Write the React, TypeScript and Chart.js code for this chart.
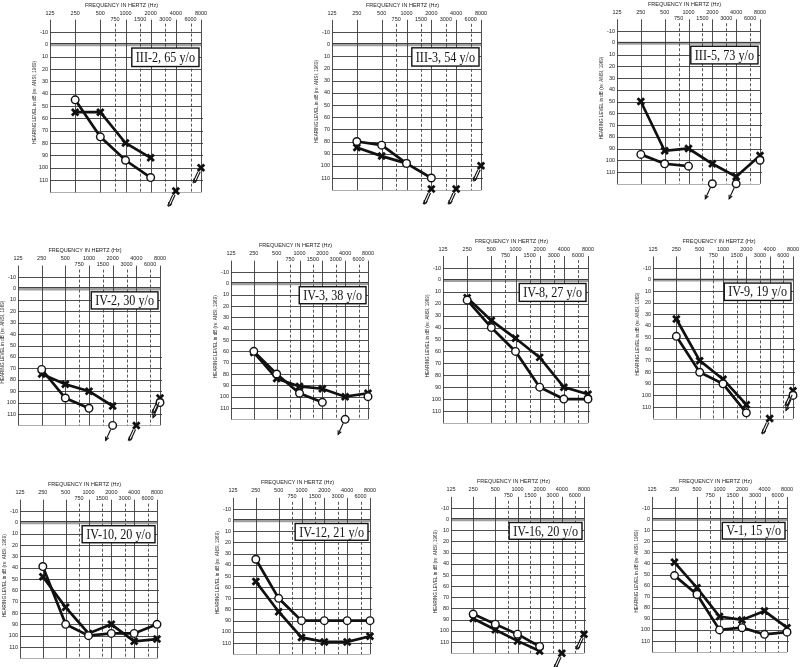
import React, { useEffect, useRef } from "react";
import { Chart, registerables } from "chart.js";

Chart.register(...registerables);

type Num = number | null;

// ---------- axes / ticks ----------
const FREQS = [250, 500, 1000, 2000, 4000, 8000];
const OCTAVE_TICKS = [125, 250, 500, 1000, 2000, 4000, 8000];
const MID_TICKS = [750, 1500, 3000, 6000];
const DB_TICKS = [-10, 0, 10, 20, 30, 40, 50, 60, 70, 80, 90, 100, 110];
const X_TITLE = "FREQUENCY IN HERTZ (Hz)";
const Y_TITLE = "HEARING LEVEL in dB (re: ANSI, 1969)";

// ---------- data (dB HL at FREQS) ----------
// O = circle series, X = cross series, NR = no response (arrow)
const iii2Circle: Num[] = [45, 75, 94, 108, null, null];
const iii2Cross: Num[] = [55, 55, 80, 92, null, null];
const iii2CircleNR: Num[] = [null, null, null, null, null, null];
const iii2CrossNR: Num[] = [null, null, null, null, 119, 100];

const iii3Circle: Num[] = [80, 83, 98, 110, null, null];
const iii3Cross: Num[] = [85, 92, 98, null, null, null];
const iii3CircleNR: Num[] = [null, null, null, null, null, null];
const iii3CrossNR: Num[] = [null, null, null, 119, 119, 100];

const iii5Circle: Num[] = [95, 103, 105, null, null, 100];
const iii5Cross: Num[] = [50, 92, 90, 103, 114, 96];
const iii5CircleNR: Num[] = [null, null, null, 120, 120, null];
const iii5CrossNR: Num[] = [null, null, null, null, null, null];

const iv2Circle: Num[] = [71, 96, 105, null, null, null];
const iv2Cross: Num[] = [75, 84, 90, 103, null, null];
const iv2CircleNR: Num[] = [null, null, null, 120, null, 100];
const iv2CrossNR: Num[] = [null, null, null, null, 120, 96];

const iv3Circle: Num[] = [60, 80, 97, 105, null, 100];
const iv3Cross: Num[] = [61, 84, 91, 93, 100, 97];
const iv3CircleNR: Num[] = [null, null, null, null, 120, null];
const iv3CrossNR: Num[] = [null, null, null, null, null, null];

const iv8Circle: Num[] = [17, 40, 60, 90, 100, 100];
const iv8Cross: Num[] = [15, 34, 49, 65, 90, 96];
const iv8CircleNR: Num[] = [null, null, null, null, null, null];
const iv8CrossNR: Num[] = [null, null, null, null, null, null];

const iv9Circle: Num[] = [49, 80, 90, 115, null, null];
const iv9Cross: Num[] = [34, 70, 86, 108, null, null];
const iv9CircleNR: Num[] = [null, null, null, null, null, 100];
const iv9CrossNR: Num[] = [null, null, null, null, 120, 96];

const iv10Circle: Num[] = [39, 90, 100, 98, 98, 90];
const iv10Cross: Num[] = [48, 75, 98, 90, 105, 103];
const iv10CircleNR: Num[] = [null, null, null, null, null, null];
const iv10CrossNR: Num[] = [null, null, null, null, null, null];

const iv12Circle: Num[] = [35, 70, 90, 90, 90, 90];
const iv12Cross: Num[] = [55, 82, 105, 109, 109, 104];
const iv12CircleNR: Num[] = [null, null, null, null, null, null];
const iv12CrossNR: Num[] = [null, null, null, null, null, null];

const iv16Circle: Num[] = [85, 94, 103, 114, null, null];
const iv16Cross: Num[] = [89, 99, 109, 118, null, null];
const iv16CircleNR: Num[] = [null, null, null, null, null, null];
const iv16CrossNR: Num[] = [null, null, null, null, 120, 103];

const v1Circle: Num[] = [51, 68, 100, 98, 104, 102];
const v1Cross: Num[] = [39, 62, 88, 91, 83, 98];
const v1CircleNR: Num[] = [null, null, null, null, null, null];
const v1CrossNR: Num[] = [null, null, null, null, null, null];

const LABELS = [
  "III-2, 65 y/o", "III-3, 54 y/o", "III-5, 73 y/o",
  "IV-2, 30 y/o", "IV-3, 38 y/o", "IV-8, 27 y/o", "IV-9, 19 y/o",
  "IV-10, 20 y/o", "IV-12, 21 y/o", "IV-16, 20 y/o", "V-1, 15 y/o",
];

// ---------- layout (pixel frame of each audiogram: x of 125 Hz / 8000 Hz, y of -10 / 110 dB) ----------
const FRAMES = [
  { a: 50, b: 201, c: 32, d: 180 },
  { a: 332, b: 481, c: 32, d: 178 },
  { a: 617, b: 760, c: 31, d: 172 },
  { a: 18, b: 160, c: 277, d: 414 },
  { a: 231, b: 368, c: 272, d: 408 },
  { a: 443, b: 588, c: 268, d: 411 },
  { a: 653, b: 793, c: 268, d: 407 },
  { a: 20, b: 157, c: 511, d: 647 },
  { a: 233, b: 370, c: 509, d: 643 },
  { a: 451, b: 584, c: 508, d: 642 },
  { a: 652, b: 787, c: 508, d: 641 },
];

const SERIES = [
  [iii2Circle, iii2Cross, iii2CircleNR, iii2CrossNR],
  [iii3Circle, iii3Cross, iii3CircleNR, iii3CrossNR],
  [iii5Circle, iii5Cross, iii5CircleNR, iii5CrossNR],
  [iv2Circle, iv2Cross, iv2CircleNR, iv2CrossNR],
  [iv3Circle, iv3Cross, iv3CircleNR, iv3CrossNR],
  [iv8Circle, iv8Cross, iv8CircleNR, iv8CrossNR],
  [iv9Circle, iv9Cross, iv9CircleNR, iv9CrossNR],
  [iv10Circle, iv10Cross, iv10CircleNR, iv10CrossNR],
  [iv12Circle, iv12Cross, iv12CircleNR, iv12CrossNR],
  [iv16Circle, iv16Cross, iv16CircleNR, iv16CrossNR],
  [v1Circle, v1Cross, v1CircleNR, v1CrossNR],
];

const SANS = '"Liberation Sans", Arial, sans-serif';
const SERIF = '"Liberation Serif", "Times New Roman", serif';

function makePlugin(label: string) {
  return {
    id: "audiogram",
    beforeDatasetsDraw(chart: any) {
      const { ctx, chartArea: area, scales } = chart;
      const x = scales.x;
      const y = scales.y;
      ctx.save();
      const left = x.getPixelForValue(125);
      const right = x.getPixelForValue(8000);
      // horizontal grid
      ctx.strokeStyle = "#3a3a3a";
      ctx.lineWidth = 0.9;
      for (const v of DB_TICKS) {
        if (v === 0) continue;
        const py = Math.round(y.getPixelForValue(v)) + 0.5;
        ctx.beginPath();
        ctx.moveTo(left, py);
        ctx.lineTo(v >= 60 ? right + 2 : right, py);
        ctx.stroke();
      }
      ctx.strokeStyle = "#9a9a9a";
      ctx.lineWidth = 0.8;
      {
        const py = Math.round(y.getPixelForValue(120)) + 0.5;
        ctx.beginPath();
        ctx.moveTo(left, py);
        ctx.lineTo(right, py);
        ctx.stroke();
      }
      // zero line (thick gray)
      {
        const py = y.getPixelForValue(0);
        ctx.strokeStyle = "#a0a0a0";
        ctx.lineWidth = 3;
        ctx.beginPath();
        ctx.moveTo(left, py + 0.5);
        ctx.lineTo(right, py + 0.5);
        ctx.stroke();
        ctx.strokeStyle = "#333";
        ctx.lineWidth = 0.9;
        ctx.beginPath();
        ctx.moveTo(left, Math.round(py) - 0.5);
        ctx.lineTo(right, Math.round(py) - 0.5);
        ctx.stroke();
      }
      // vertical octave lines
      ctx.strokeStyle = "#3a3a3a";
      ctx.lineWidth = 0.9;
      for (const f of OCTAVE_TICKS) {
        const px = Math.round(x.getPixelForValue(f)) + 0.5;
        ctx.beginPath();
        ctx.moveTo(px, area.top);
        ctx.lineTo(px, area.bottom);
        ctx.stroke();
      }
      // dashed mid-octave lines
      ctx.setLineDash([3, 2]);
      ctx.strokeStyle = "#444";
      for (const f of MID_TICKS) {
        const px = Math.round(x.getPixelForValue(f)) + 0.5;
        ctx.beginPath();
        ctx.moveTo(px, area.top + 4);
        ctx.lineTo(px, area.bottom);
        ctx.stroke();
      }
      ctx.setLineDash([]);

      // labels
      const yTop = y.getPixelForValue(-10);
      ctx.fillStyle = "#222";
      ctx.font = `5.5px ${SANS}`;
      ctx.textAlign = "center";
      ctx.textBaseline = "middle";
      ctx.fillText(X_TITLE, (left + right) / 2 - 4, yTop - 27);
      for (const f of OCTAVE_TICKS) {
        ctx.fillText(String(f), x.getPixelForValue(f), yTop - 19);
      }
      for (const f of MID_TICKS) {
        ctx.fillText(String(f), x.getPixelForValue(f), yTop - 13);
      }
      ctx.textAlign = "right";
      for (const v of DB_TICKS) {
        ctx.fillText(String(v), left - 2, y.getPixelForValue(v));
      }
      ctx.save();
      ctx.translate(left - 15, y.getPixelForValue(47));
      ctx.rotate(-Math.PI / 2);
      ctx.textAlign = "center";
      ctx.font = `4.6px ${SANS}`;
      ctx.fillText(Y_TITLE, 0, 0);
      ctx.restore();

      // label box
      ctx.font = `14px ${SERIF}`;
      const sx = 0.87;
      const tw = ctx.measureText(label).width * sx;
      const bTop = y.getPixelForValue(3);
      const bBot = y.getPixelForValue(18);
      const bRight = right - 2;
      const bw = tw + 8;
      const bLeft = bRight - bw;
      ctx.fillStyle = "#fff";
      ctx.fillRect(bLeft, bTop, bw, bBot - bTop);
      ctx.strokeStyle = "#111";
      ctx.lineWidth = 1.4;
      ctx.strokeRect(bLeft, bTop, bw, bBot - bTop);
      ctx.save();
      ctx.translate(bLeft + 4, (bTop + bBot) / 2 + 1);
      ctx.scale(sx, 1);
      ctx.fillStyle = "#111";
      ctx.textAlign = "left";
      ctx.textBaseline = "middle";
      ctx.fillText(label, 0, 0);
      ctx.restore();
      ctx.restore();
    },
    afterDatasetsDraw(chart: any) {
      const { ctx } = chart;
      ctx.save();
      chart.data.datasets.forEach((ds: any, i: number) => {
        if (!ds.noResponse) return;
        const meta = chart.getDatasetMeta(i);
        meta.data.forEach((pt: any, j: number) => {
          const raw = ds.data[j];
          if (!raw || raw.y === null || raw.y === undefined) return;
          const x0 = pt.x - 2;
          const y0 = pt.y + 4;
          const x1 = pt.x - 7;
          const y1 = pt.y + 15;
          const lines = ds.noResponse === "cross" ? [-1.2, 1.2] : [0];
          ctx.strokeStyle = "#111";
          ctx.lineWidth = 1.1;
          for (const off of lines) {
            ctx.beginPath();
            ctx.moveTo(x0 + off, y0);
            ctx.lineTo(x1 + off, y1);
            ctx.stroke();
          }
          // arrow head
          const ang = Math.atan2(y1 - y0, x1 - x0);
          const hl = 4;
          ctx.beginPath();
          ctx.moveTo(x1 + hl * Math.cos(ang - Math.PI + 0.45), y1 + hl * Math.sin(ang - Math.PI + 0.45));
          ctx.lineTo(x1, y1);
          ctx.lineTo(x1 + hl * Math.cos(ang - Math.PI - 0.45), y1 + hl * Math.sin(ang - Math.PI - 0.45));
          ctx.stroke();
        });
      });
      ctx.restore();
    },
  };
}

function Panel({ idx }: { idx: number }) {
  const ref = useRef<HTMLCanvasElement>(null);
  const f = FRAMES[idx];
  const k = (f.d - f.c) / 120;
  const left = Math.max(0, f.a - 30);
  const top = f.c - 34;
  const width = f.b - left + 16;
  const height = f.d - f.c + 72;
  const padLeft = f.a - left;
  const padRight = width - (f.b - left);
  const padTop = f.c - 10 * k - top;
  const padBottom = top + height - (f.d + 10 * k);

  useEffect(() => {
    const [circle, cross, circleNR, crossNR] = SERIES[idx];
    const pts = (arr: Num[]) => FREQS.map((fr, i) => ({ x: fr, y: arr[i] }));
    const circleStyle = {
      pointStyle: "circle",
      pointRadius: 3.8,
      pointBackgroundColor: "#fff",
      pointBorderColor: "#111",
      pointBorderWidth: 1.4,
    };
    const crossStyle = {
      pointStyle: "crossRot",
      pointRadius: 4.6,
      pointBorderColor: "#111",
      pointBackgroundColor: "#111",
      pointBorderWidth: 2.8,
    };
    const chart = new Chart(ref.current as HTMLCanvasElement, {
      type: "line",
      data: {
        datasets: [
          { label: "O", data: pts(circle), borderColor: "#111", borderWidth: 2.7, spanGaps: false, clip: false, ...circleStyle } as any,
          { label: "O no response", data: pts(circleNR), showLine: false, clip: false, noResponse: "circle", ...circleStyle } as any,
          { label: "X", data: pts(cross), borderColor: "#111", borderWidth: 2.7, spanGaps: false, clip: false, ...crossStyle } as any,
          { label: "X no response", data: pts(crossNR), showLine: false, clip: false, noResponse: "cross", ...crossStyle } as any,
        ],
      },
      options: {
        animation: false,
        responsive: false,
        maintainAspectRatio: false,
        devicePixelRatio: 1,
        layout: { padding: { left: padLeft, right: padRight, top: padTop, bottom: padBottom } },
        plugins: { legend: { display: false }, tooltip: { enabled: false } },
        events: [],
        scales: {
          x: { type: "logarithmic", min: 125, max: 8000, display: false },
          y: { type: "linear", min: -20, max: 120, reverse: true, display: false },
        },
      },
      plugins: [makePlugin(LABELS[idx])],
    });
    return () => chart.destroy();
  }, []);

  return (
    <canvas
      ref={ref}
      width={width}
      height={height}
      style={{ position: "absolute", left, top, width, height }}
    />
  );
}

export default function App() {
  return (
    <div
      style={{
        position: "fixed",
        left: 0,
        top: 0,
        width: 800,
        height: 667,
        background: "#fff",
        overflow: "hidden",
      }}
    >
      {FRAMES.map((_, i) => (
        <Panel key={i} idx={i} />
      ))}
    </div>
  );
}
